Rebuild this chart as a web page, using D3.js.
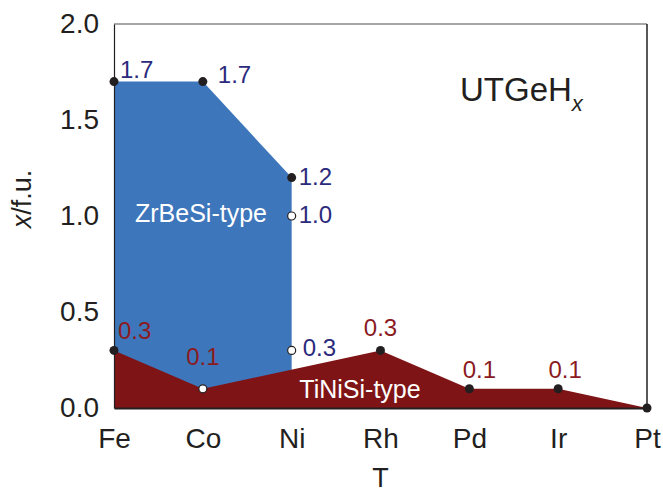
<!DOCTYPE html>
<html>
<head>
<meta charset="utf-8">
<script src="https://cdn.jsdelivr.net/npm/d3@7"></script>
<style>
  html, body { margin: 0; padding: 0; background: #fff; }
  svg { display: block; font-family: "Liberation Sans", Arial, sans-serif; }
</style>
</head>
<body>
<svg id="chart" width="663" height="494"></svg>
<script>
// ---- data ----
const categories = ["Fe", "Co", "Ni", "Rh", "Pd", "Ir", "Pt"];
const yTicks = [0.0, 0.5, 1.0, 1.5, 2.0];

// ZrBeSi-type region (upper boundary)
const zrbesiCats = ["Fe", "Co", "Ni"];
const zrbesiUpper = [1.7, 1.7, 1.2];

// TiNiSi-type region (upper boundary)
const tinisiCats = ["Fe", "Co", "Rh", "Pd", "Ir", "Pt"];
const tinisiValues = [0.3, 0.1, 0.3, 0.1, 0.1, 0.0];

// markers
const filledCats = ["Fe", "Co", "Ni", "Fe", "Rh", "Pd", "Ir", "Pt"];
const filledValues = [1.7, 1.7, 1.2, 0.3, 0.3, 0.1, 0.1, 0.0];
const openCats = ["Ni", "Ni", "Co"];
const openValues = [1.0, 0.3, 0.1];

// value labels (blue = ZrBeSi, red = TiNiSi)
const blueLabelCats = ["Fe", "Co", "Ni", "Ni", "Ni"];
const blueLabelValues = [1.7, 1.7, 1.2, 1.0, 0.3];
const redLabelCats = ["Fe", "Co", "Rh", "Pd", "Ir"];
const redLabelValues = [0.3, 0.1, 0.3, 0.1, 0.1];

// ---- layout ----
const svg = d3.select("#chart");
const margin = { left: 114, right: 16, top: 24, bottom: 86 };
const W = 663, H = 494;
const x = d3.scalePoint().domain(categories).range([margin.left, W - margin.right]).padding(0);
const y = d3.scaleLinear().domain([0, 2]).range([H - margin.bottom, margin.top]);

const blue = "#3e76bb", red = "#7f1416";
const blueText = "#2b2a7c", redText = "#8a1b1f";
const ink = "#231f20";

// blue area
const zData = zrbesiCats.map((c, i) => ({ c, v: zrbesiUpper[i] }));
svg.append("path")
  .datum(zData)
  .attr("fill", blue)
  .attr("d", d3.area().x(d => x(d.c)).y0(y(0)).y1(d => y(d.v)));

// red area
const tData = tinisiCats.map((c, i) => ({ c, v: tinisiValues[i] }));
svg.append("path")
  .datum(tData)
  .attr("fill", red)
  .attr("d", d3.area().x(d => x(d.c)).y0(y(0)).y1(d => y(d.v)));

// frame
svg.append("line").attr("x1", x.range()[0]).attr("x2", x.range()[1])
  .attr("y1", y(2)).attr("y2", y(2)).attr("stroke", "#8a8a8a").attr("stroke-width", 1.5);
svg.append("line").attr("x1", x.range()[1]).attr("x2", x.range()[1])
  .attr("y1", y(2)).attr("y2", y(0)).attr("stroke", ink).attr("stroke-width", 1.5);

// axes
const yAxis = d3.axisLeft(y).tickValues(yTicks).tickFormat(d3.format(".1f")).tickSize(0).tickPadding(15);
const gy = svg.append("g").attr("transform", `translate(${margin.left},0)`).call(yAxis);
gy.select(".domain").attr("stroke", ink).attr("stroke-width", 1.2);
gy.selectAll("text").attr("font-size", 28).attr("fill", ink).attr("font-family", "Liberation Sans, Arial, sans-serif");

const xAxis = d3.axisBottom(x).tickSize(0).tickPadding(20);
const gx = svg.append("g").attr("transform", `translate(0,${y(0)})`).call(xAxis);
gx.select(".domain").attr("stroke", ink).attr("stroke-width", 2);
gx.selectAll("text").attr("font-size", 28).attr("fill", ink).attr("font-family", "Liberation Sans, Arial, sans-serif");

// markers
svg.append("g").selectAll("circle")
  .data(filledCats.map((c, i) => ({ c, v: filledValues[i] })))
  .join("circle")
  .attr("cx", d => x(d.c)).attr("cy", d => y(d.v)).attr("r", 4.5)
  .attr("fill", ink);
svg.append("g").selectAll("circle")
  .data(openCats.map((c, i) => ({ c, v: openValues[i] })))
  .join("circle")
  .attr("cx", d => x(d.c)).attr("cy", d => y(d.v)).attr("r", 4)
  .attr("fill", "#fff").attr("stroke", ink).attr("stroke-width", 1.2);

// blue labels
const blueOff = [[6, -4, "start", "auto"], [15, 1, "start", "auto"], [7, 1, "start", "middle"], [7, 1, "start", "middle"], [11, -1, "start", "middle"]];
svg.append("g").selectAll("text")
  .data(blueLabelCats.map((c, i) => ({ c, v: blueLabelValues[i], o: blueOff[i] })))
  .join("text")
  .attr("x", d => x(d.c) + d.o[0]).attr("y", d => y(d.v) + d.o[1])
  .attr("text-anchor", d => d.o[2]).attr("dominant-baseline", d => d.o[3])
  .attr("font-size", 24).attr("fill", blueText)
  .text(d => d3.format(".1f")(d.v));

// red labels
const redOff = [[4, -11, "start"], [0, -24, "middle"], [0, -14, "middle"], [10, -11, "middle"], [7, -11, "middle"]];
svg.append("g").selectAll("text")
  .data(redLabelCats.map((c, i) => ({ c, v: redLabelValues[i], o: redOff[i] })))
  .join("text")
  .attr("x", d => x(d.c) + d.o[0]).attr("y", d => y(d.v) + d.o[1])
  .attr("text-anchor", d => d.o[2])
  .attr("font-size", 24).attr("fill", redText)
  .text(d => d3.format(".1f")(d.v));

// region names
svg.append("text").attr("x", 201).attr("y", 222).attr("text-anchor", "middle")
  .attr("font-size", 25).attr("fill", "#fff").text("ZrBeSi-type");
svg.append("text").attr("x", 360).attr("y", 398).attr("text-anchor", "middle")
  .attr("font-size", 25).attr("fill", "#fff").text("TiNiSi-type");

// compound title
const t = svg.append("text").attr("x", 460).attr("y", 101).attr("font-size", 33).attr("fill", ink);
t.append("tspan").text("UTGeH");
t.append("tspan").attr("font-style", "italic").attr("font-size", 22).attr("dy", 10).text("x");

// axis titles
const yt = svg.append("text")
  .attr("transform", "translate(31,199) rotate(-90)")
  .attr("text-anchor", "middle").attr("font-size", 27).attr("fill", ink);
yt.append("tspan").attr("font-style", "italic").text("x");
yt.append("tspan").text("/f.u.");

svg.append("text").attr("x", x("Rh")).attr("y", 487).attr("text-anchor", "middle")
  .attr("font-size", 27).attr("fill", ink).text("T");
</script>
</body>
</html>
